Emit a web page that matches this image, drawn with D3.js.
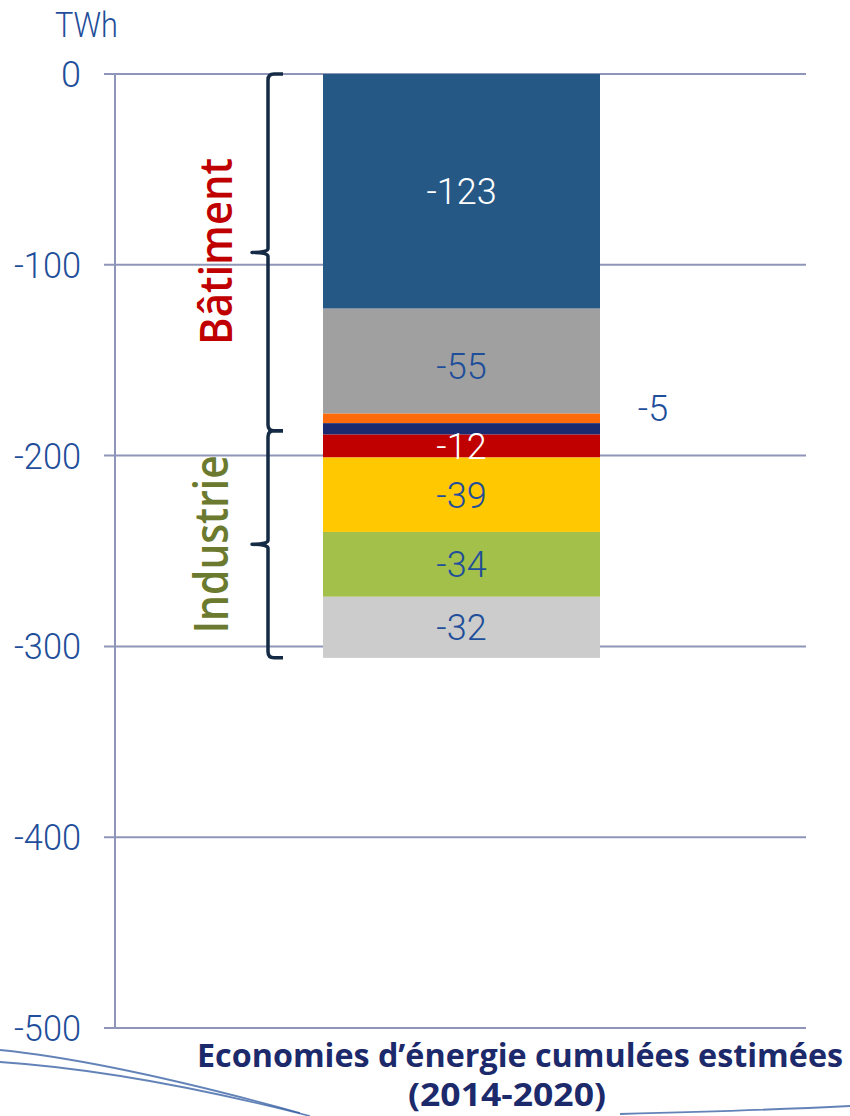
<!DOCTYPE html>
<html><head><meta charset="utf-8">
<script src="https://cdn.jsdelivr.net/npm/d3@7"></script>
<style>body{margin:0;background:#fff}svg{display:block}</style>
</head><body>
<svg id="c" width="850" height="1116"></svg>
<script>
const categories = ["Bâtiment 1","Bâtiment 2","Bâtiment 3","Industrie 1","Industrie 2","Industrie 3","Industrie 4","Industrie 5"];
const values = [-123,-55,-5,-6,-12,-39,-34,-32];
const colors = ["#265886","#a0a0a0","#ff6a0a","#1b2a6e","#c00000","#ffc800","#a2c04a","#cccccc"];
const labelText = ["-123","-55","","","-12","-39","-34","-32"];
const labelColors = ["#ffffff","#1f4e9a","","","#ffffff","#1f4e9a","#1f4e9a","#1f4e9a"];
const outsideLabel = {index:2, text:"-5"};
const tickValues = [0,-100,-200,-300,-400,-500];
const groups = [{name:"Bâtiment", from:0, to:-187, color:"#c00000", weight:"600", size:46},
                {name:"Industrie", from:-187, to:-306, color:"#6b7a2e", weight:"600", size:47}];
const xCategory = ["Economies d\u2019énergie cumulées estimées", "(2014-2020)"];

const svg = d3.select("#c");
const y = d3.scaleLinear().domain([0,-500]).range([74,1028]);
const barX0 = 323, barW = 277;

// gridlines
svg.append("g").selectAll("line").data(tickValues).join("line")
  .attr("x1",104).attr("x2",806).attr("y1",d=>y(d)).attr("y2",d=>y(d))
  .attr("stroke","#8e95b8").attr("stroke-width",2);
svg.append("line").attr("x1",115).attr("x2",115).attr("y1",y(0)).attr("y2",y(-500))
  .attr("stroke","#8e95b8").attr("stroke-width",2);

// tick labels
svg.append("g").selectAll("text").data(tickValues).join("text")
  .attr("x",81).attr("y",d=>y(d)+13).attr("text-anchor","end")
  .attr("font-family","Roboto").attr("font-weight",300).attr("font-size",36)
  .attr("textLength",d=>d===0?null:(String(d).length===4?67:null))
  .attr("lengthAdjust","spacingAndGlyphs")
  .attr("fill","#1f4e9a").text(d=>d);
svg.append("text").attr("x",55).attr("y",37).attr("font-family","Roboto").attr("font-weight",300)
  .attr("font-size",35).attr("textLength",63).attr("lengthAdjust","spacingAndGlyphs")
  .attr("fill","#1f4e9a").text("TWh");

// stacked segments
let acc = 0;
const segs = values.map((v,i)=>{const s={i,v,y0:acc,y1:acc+v}; acc+=v; return s;});
svg.append("g").selectAll("rect").data(segs).join("rect")
  .attr("x",barX0).attr("width",barW)
  .attr("y",d=>y(d.y0)).attr("height",d=>y(d.y1)-y(d.y0))
  .attr("fill",d=>colors[d.i]);
svg.append("g").selectAll("text").data(segs.filter(d=>labelText[d.i])).join("text")
  .attr("x",barX0+barW/2).attr("y",d=>(y(d.y0)+y(d.y1))/2+13 + (d.i===1?5:0))
  .attr("text-anchor","middle").attr("font-family","Roboto").attr("font-weight",300)
  .attr("font-size",36).attr("fill",d=>labelColors[d.i]).text(d=>labelText[d.i]);
const os = segs[outsideLabel.index];
svg.append("text").attr("x",653).attr("y",y(os.y0)+7).attr("text-anchor","middle")
  .attr("font-family","Roboto").attr("font-weight",300).attr("font-size",36)
  .attr("fill","#1f4e9a").text(outsideLabel.text);

// braces
function brace(yt, yb){
  const xl=268, xr=283, tip=252, ym=(yt+yb)/2, r=6;
  return `M${xr},${yt} L${xl+r},${yt} Q${xl},${yt} ${xl},${yt+r} L${xl},${ym-4} Q${xl},${ym} ${tip},${ym}`+
         ` Q${xl},${ym} ${xl},${ym+4} L${xl},${yb-r} Q${xl},${yb} ${xl+r},${yb} L${xr},${yb}`;
}
svg.append("g").selectAll("path").data(groups).join("path")
  .attr("d",g=>brace(y(g.from),y(g.to)))
  .attr("fill","none").attr("stroke","#152b45").attr("stroke-width",3.5).attr("stroke-linejoin","round");
svg.append("g").selectAll("text").data(groups).join("text")
  .attr("transform",g=>`translate(${g.name==="Bâtiment"?232:228},${(y(g.from)+y(g.to))/2 + (g.name==="Bâtiment"?-1:0)}) rotate(-90)`)
  .attr("text-anchor","middle").attr("font-family","Open Sans").attr("font-weight",g=>g.weight)
  .attr("font-size",g=>g.size).attr("fill",g=>g.color)
  .attr("textLength",g=>g.name==="Bâtiment"?187:178).attr("lengthAdjust","spacingAndGlyphs")
  .text(g=>g.name);

// axis title
svg.append("text").attr("x",520).attr("y",1067).attr("text-anchor","middle")
  .attr("font-family","Open Sans").attr("font-weight","bold").attr("font-size",32)
  .attr("textLength",646).attr("lengthAdjust","spacingAndGlyphs")
  .attr("fill","#1c2a6b").text(xCategory[0]);
svg.append("text").attr("x",507).attr("y",1106).attr("text-anchor","middle")
  .attr("font-family","Open Sans").attr("font-weight","bold").attr("font-size",32)
  .attr("textLength",198).attr("lengthAdjust","spacingAndGlyphs")
  .attr("fill","#1c2a6b").text(xCategory[1]);

// decorative swooshes
const sw = svg.append("g").attr("fill","none").attr("stroke","#2f5aa0").attr("stroke-opacity",0.75);
sw.append("path").attr("d","M0,1050 C80,1058 180,1080 300,1113").attr("stroke-width",1.8);
sw.append("path").attr("d","M0,1062 C90,1068 200,1088 310,1116").attr("stroke-width",1.8);
sw.append("path").attr("d","M620,1114 C700,1112 790,1109 850,1106").attr("stroke-width",1.8);
</script>
</body></html>
